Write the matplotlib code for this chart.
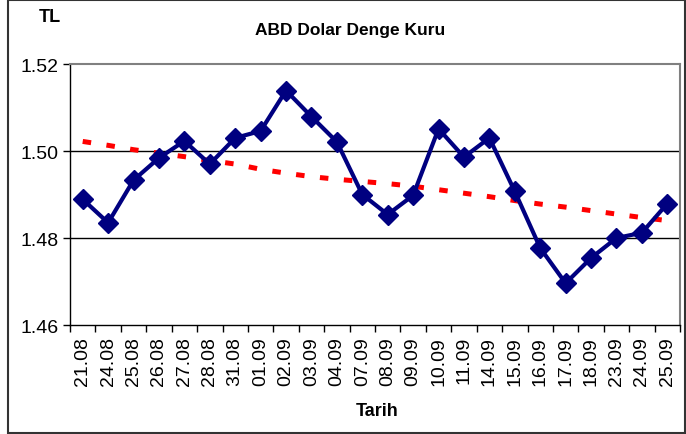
import matplotlib
matplotlib.use('Agg')
import matplotlib.pyplot as plt
import numpy as np
from matplotlib.patches import Rectangle

plt.rcParams['font.family'] = ['Liberation Sans', 'DejaVu Sans']

# dates on the x axis
dates = ['21.08', '24.08', '25.08', '26.08', '27.08', '28.08', '31.08', '01.09',
         '02.09', '03.09', '04.09', '07.09', '08.09', '09.09', '10.09', '11.09',
         '14.09', '15.09', '16.09', '17.09', '18.09', '23.09', '24.09', '25.09']

# USD equilibrium rate (TL)
kur = [1.4889, 1.4835, 1.4933, 1.4984, 1.5023, 1.4970, 1.5030, 1.5046,
       1.5139, 1.5079, 1.5021, 1.4900, 1.4854, 1.4898, 1.5051, 1.4986,
       1.5030, 1.4907, 1.4777, 1.4696, 1.4754, 1.4800, 1.4812, 1.4879]

# trend line
trend = [1.5022, 1.5013, 1.5003, 1.4995, 1.4987, 1.4978, 1.4970, 1.4958,
         1.4949, 1.4941, 1.4935, 1.4930, 1.4925, 1.4919, 1.4911, 1.4903,
         1.4895, 1.4886, 1.4878, 1.4871, 1.4863, 1.4855, 1.4847, 1.4840]

y_ticks = [1.46, 1.48, 1.50, 1.52]

fig = plt.figure(figsize=(6.86, 4.35), dpi=100)
ax = fig.add_axes([70 / 686, 109 / 435, 610 / 686, 261 / 435])

x = np.arange(len(dates))

# gridlines
for yt in y_ticks[1:-1]:
    ax.axhline(yt, color='black', lw=1.0, zorder=1)

ax.plot(x, trend, color='#FF0000', lw=3.6, linestyle=(0, (1.7, 3.1)),
        dash_capstyle='butt', zorder=2)
ax.plot(x, kur, color='#000080', lw=3.0, marker='D', markersize=10,
        markeredgecolor='#000080', zorder=3)

ax.set_xlim(-0.5, len(dates) - 0.5)
ax.set_ylim(1.46, 1.52)
ax.set_yticks(y_ticks)
ax.set_yticklabels(['%.2f' % v for v in y_ticks], fontsize=14)

ax.set_xticks(x)
ax.set_xticklabels(dates, rotation=90, fontsize=14)
ax.set_xticks(np.arange(-0.5, len(dates), 1), minor=True)
ax.tick_params(axis='x', which='major', length=0, pad=8)
ax.tick_params(axis='x', which='minor', length=5, width=1, direction='out')
ax.tick_params(axis='y', length=5, width=1, direction='out', pad=3)

ax.spines['top'].set_color('#808080')
ax.spines['right'].set_color('#808080')
ax.spines['top'].set_linewidth(1.5)
ax.spines['right'].set_linewidth(1.5)
ax.spines['left'].set_linewidth(1.0)
ax.spines['bottom'].set_linewidth(1.0)

fig.text(350 / 686, 1 - 30 / 435, 'ABD Dolar Denge Kuru', ha='center', va='center',
         fontsize=12.5, fontweight='bold')
fig.text(50 / 686, 1 - 17 / 435, 'TL', ha='center', va='center',
         fontsize=13, fontweight='bold')
fig.text(377 / 686, 1 - 412 / 435, 'Tarih', ha='center', va='center',
         fontsize=13, fontweight='bold')

# outer chart frame
fig.patches.append(Rectangle((8 / 686, 1 / 435), 677 / 686, 433 / 435,
                             transform=fig.transFigure, fill=False,
                             edgecolor='#333333', lw=1.5))

fig.savefig('out.png', dpi=100)
